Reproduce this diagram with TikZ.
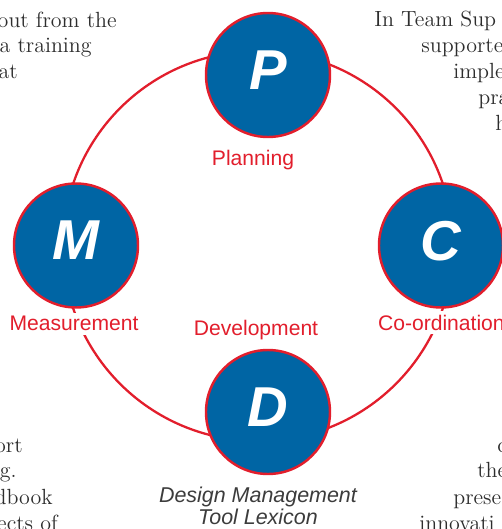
\documentclass[tikz,border=0pt]{standalone}
\usepackage{fontspec}
\usepackage{tikz}
\newfontfamily\labelfont{Liberation Sans}
\definecolor{pdcablue}{RGB}{0,101,164}
\definecolor{pdcared}{RGB}{226,30,44}
\definecolor{bodygray}{RGB}{45,45,45}
\definecolor{lexgray}{RGB}{60,60,60}

\begin{document}
\begin{tikzpicture}[
    phase/.style={circle, draw=pdcared, line width=1.4pt, fill=pdcablue, minimum size=2.48cm, inner sep=0pt,
        text=white, text depth=0.2cm, font=\labelfont\bfseries\itshape\fontsize{32}{32}\selectfont},
    phaselabel/.style={text=pdcared, fill=white, inner xsep=1pt, inner ysep=2pt, anchor=base,
        font=\labelfont\fontsize{12}{14}\selectfont},
    lexicon/.style={text=lexgray, inner sep=0pt, anchor=base, font=\labelfont\itshape\fontsize{12.2}{14}\selectfont},
    bodyleft/.style={text=bodygray, inner sep=0pt, anchor=base east, font=\fontsize{12.5}{15}\selectfont},
    bodyright/.style={text=bodygray, inner sep=0pt, anchor=base west, font=\fontsize{12.5}{15}\selectfont}
]
    % Page area
    \useasboundingbox (0, 0) rectangle (10.04, 10.58);
    \clip (0, 0) rectangle (10.04, 10.58);

    % Cycle ring
    \draw[pdcared, line width=1.3pt] (5.16, 5.66) circle (3.9);

    % Phases of the cycle
    \node[phase] (plan) at (5.36, 9.08) {P};
    \node[phase] (meas) at (1.52, 5.67) {M};
    \node[phase] (coord) at (8.82, 5.67) {C};
    \node[phase] (dev) at (5.36, 2.34) {D};

    % Phase labels (white backing hides the ring)
    \node[phaselabel] (planlabel) at (5.06, 7.28) {Planning};
    \node[phaselabel] (measlabel) at (1.48, 3.96) {Measurement};
    \node[phaselabel, anchor=base west] (coordlabel) at (7.52, 3.98) {Co-ordination};
    \node[phaselabel] (devlabel) at (5.12, 3.87) {Development};

    % Caption
    \node[lexicon] (lexicontop) at (5.16, 0.54) {Design Management};
    \node[lexicon] (lexiconbot) at (5.16, 0.08) {Tool Lexicon};

    % Body text round the figure (top left)
    \node[bodyleft] (tl1) at (2.34, 10.04) {out from the};
    \node[bodyleft] (tl2) at (1.84, 9.54) {a training};
    \node[bodyleft] (tl3) at (0.36, 9.02) {at};

    % Body text (top right)
    \node[bodyright] (tr1) at (7.48, 10.06) {In Team Sup};
    \node[bodyright] (tr2) at (8.42, 9.54) {supporte};
    \node[bodyright] (tr3) at (9.06, 9.02) {imple};
    \node[bodyright] (tr4) at (9.56, 8.50) {pra};
    \node[bodyright] (tr5) at (9.90, 7.98) {h};

    % Body text (bottom left)
    \node[bodyleft] (bl1) at (0.46, 1.54) {ort};
    \node[bodyleft] (bl2) at (0.34, 1.02) {g.};
    \node[bodyleft] (bl3) at (1.06, 0.50) {dbook};
    \node[bodyleft] (bl4) at (1.16, -0.02) {ects of};

    % Body text (bottom right)
    \node[bodyright] (br1) at (9.94, 1.54) {c};
    \node[bodyright] (br2) at (9.54, 1.02) {the};
    \node[bodyright] (br3) at (9.06, 0.50) {prese};
    \node[bodyright] (br4) at (8.38, -0.02) {innovati};

\end{tikzpicture}
\end{document}
